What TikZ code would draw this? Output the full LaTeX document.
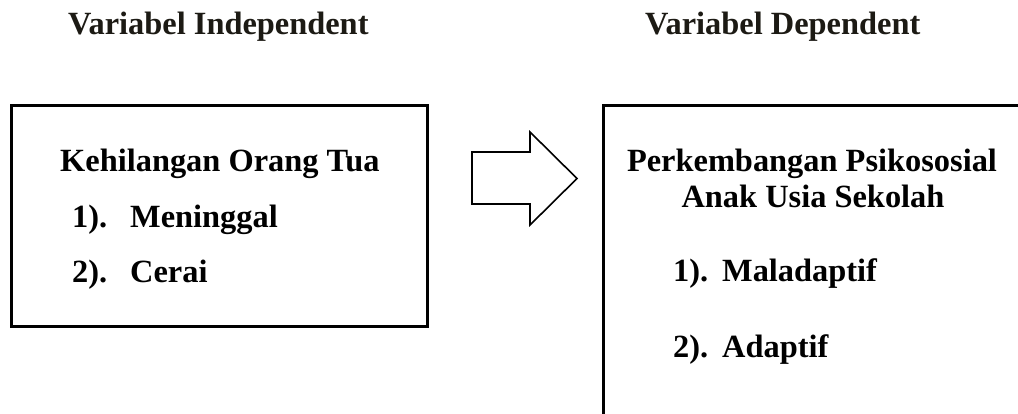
\documentclass[tikz,border=0pt]{standalone}
\usepackage{fontspec}
\setmainfont{Liberation Serif}
\begin{document}
\begin{tikzpicture}[x=1pt,y=-1pt,
  txt/.style={inner sep=0pt,anchor=base west,font=\fontsize{32.4}{36}\selectfont\bfseries},
  ctxt/.style={inner sep=0pt,anchor=base,font=\fontsize{32.4}{36}\selectfont\bfseries},
  head/.style={txt,text={rgb,255:red,28;green,26;blue,20}},
  frame/.style={draw=black,line width=3pt},
  bigarrow/.style={draw=black,line width=1.6pt,line join=miter,fill=white}]
\useasboundingbox (0,0) rectangle (1018,414);

% column headings
\node[head] (hind) at (68,35) {Variabel Independent};
\node[head] (hdep) at (645,35) {Variabel Dependent};

% independent variable box
\draw[frame] (11,106) rectangle (427,326);
\node[txt] (indtitle) at (60,172) {Kehilangan Orang Tua};
\node[txt] (n1) at (72,228) {1).};
\node[txt] (i1) at (130,228) {Meninggal};
\node[txt] (n2) at (72,283) {2).};
\node[txt] (i2) at (130,283) {Cerai};

% dependent variable box (runs off the page to the right and bottom)
\begin{scope}
\clip (0,0) rectangle (1018,414);
\draw[frame] (603,106) rectangle (1040,440);
\end{scope}
\node[ctxt] (deptitle1) at (812,172) {Perkembangan Psikososial};
\node[ctxt] (deptitle2) at (813,208) {Anak Usia Sekolah};
\node[txt] (m1) at (673,282) {1).};
\node[txt] (d1) at (722,282) {Maladaptif};
\node[txt] (m2) at (673,357) {2).};
\node[txt] (d2) at (722,357) {Adaptif};

% block arrow between the boxes
\draw[bigarrow] (472,152) -- (530,152) -- (530,132) -- (577,178.5)
  -- (530,225) -- (530,204) -- (472,204) -- cycle;
\end{tikzpicture}
\end{document}
